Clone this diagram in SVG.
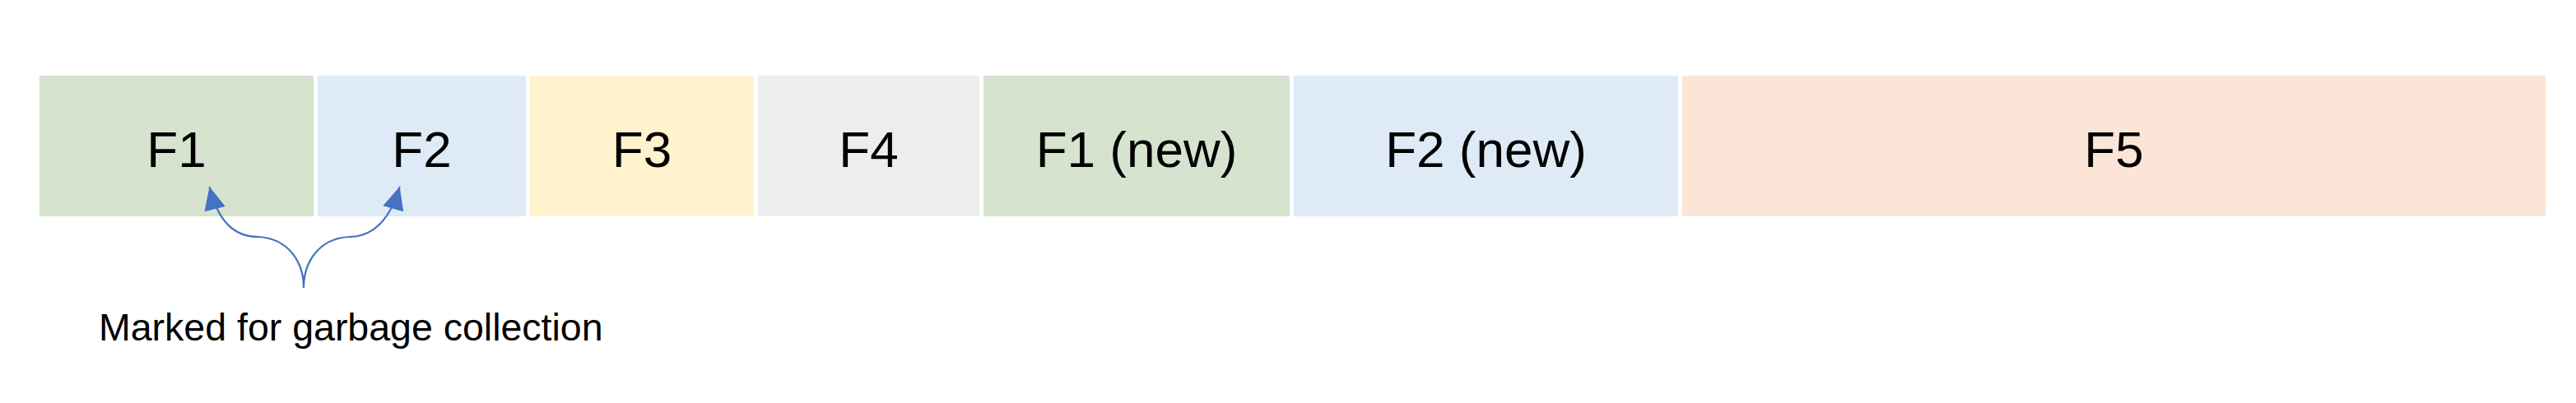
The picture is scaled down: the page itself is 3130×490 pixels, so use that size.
<svg xmlns="http://www.w3.org/2000/svg" width="3130" height="490" viewBox="0 0 3130 490">
<style>
.lbl{font-family:"Liberation Sans",Arial,sans-serif;font-size:62px;fill:#000;text-anchor:middle}
.note{font-family:"Liberation Sans",Arial,sans-serif;font-size:46.5px;fill:#000}
.conn{fill:none;stroke:#4472C4;stroke-width:2.2}
</style>
<defs>
<marker id="arr" markerUnits="userSpaceOnUse" markerWidth="30" markerHeight="30" viewBox="0 0 30 30" refX="28" refY="15" orient="auto">
<path d="M0,2 L28,15 L0,28 Z" fill="#4472C4"/>
</marker>
</defs>
<rect width="3130" height="490" fill="#fff"/>
<g id="f1"><rect x="48" y="92" width="333" height="171" fill="#D5E3CF"/><text class="lbl" x="214.5" y="203">F1</text></g>
<g id="f2"><rect x="386" y="92" width="253" height="171" fill="#DEEAF6"/><text class="lbl" x="512.5" y="203">F2</text></g>
<g id="f3"><rect x="644" y="92" width="272" height="171" fill="#FFF2CC"/><text class="lbl" x="780" y="203">F3</text></g>
<g id="f4"><rect x="921" y="92" width="269" height="171" fill="#EDEDED"/><text class="lbl" x="1055.5" y="203">F4</text></g>
<g id="f1new"><rect x="1195" y="92" width="372" height="171" fill="#D5E3CF"/><text class="lbl" x="1381" y="203">F1 (new)</text></g>
<g id="f2new"><rect x="1572" y="92" width="467" height="171" fill="#DEEAF6"/><text class="lbl" x="1805.5" y="203">F2 (new)</text></g>
<g id="f5"><rect x="2044" y="92" width="1049" height="171" fill="#FBE5D6"/><text class="lbl" x="2568.5" y="203">F5</text></g>
<g id="note"><text class="note" x="120" y="414">Marked for garbage collection</text></g>
<g id="connectors">
<path class="conn" d="M369,350 C369,318 350,290 314,288 C285,288 265,270 254.5,227" marker-end="url(#arr)"/>
<path class="conn" d="M369,350 C369,318 388,290 424,288 C452,288 473,270 485.7,227" marker-end="url(#arr)"/>
</g>
</svg>
